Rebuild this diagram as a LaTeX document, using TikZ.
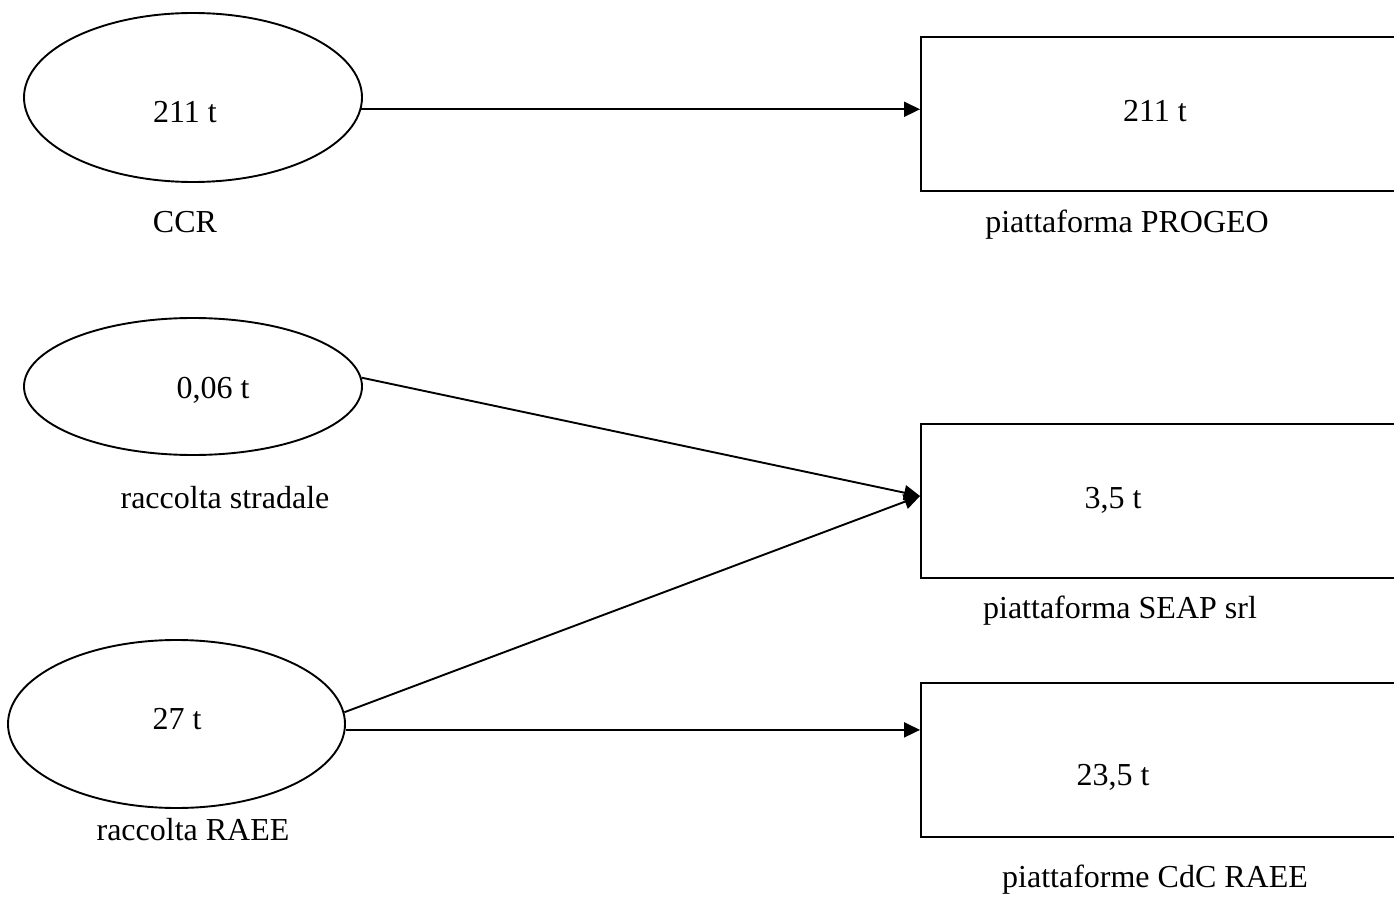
\documentclass[tikz,border=0pt]{standalone}
\usepackage{fontspec}
\setmainfont{Liberation Serif}
\usetikzlibrary{shapes.geometric,arrows.meta}
\begin{document}
\begin{tikzpicture}[x=0.5pt,y=-0.5pt,
  every node/.style={font=\fontsize{16pt}{20pt}\selectfont},
  source/.style={draw,ellipse,line width=0.95pt,inner sep=0pt},
  plant/.style={draw,rectangle,line width=0.95pt,inner sep=0pt,minimum width=239.5pt,minimum height=77pt},
  txt/.style={anchor=base,inner sep=0pt},
  flow/.style={line width=0.95pt,-{Triangle[length=8pt,width=7.5pt]}}]
\useasboundingbox (0,0) rectangle (1394,899);
\clip (0,0) rectangle (1394,899);

% sources
\node[source,minimum width=169pt,minimum height=84.5pt] (e1) at (193,97.5) {};
\node[source,minimum width=169pt,minimum height=68.5pt] (e2) at (193,386.5) {};
\node[source,minimum width=168.5pt,minimum height=84pt] (e3) at (176.5,724) {};

% destinations
\node[plant] (r1) at (1160.5,114) {};
\node[plant] (r2) at (1160.5,501) {};
\node[plant] (r3) at (1160.5,760) {};

% quantities and captions
\node[txt] (t1) at (185,123) {211 t};
\node[txt] (l1) at (185,233) {CCR};
\node[txt] (t2) at (213,398) {0,06 t};
\node[txt] (l2) at (225,508) {raccolta stradale};
\node[txt] (t3) at (177,729) {27 t};
\node[txt] (l3) at (193,840) {raccolta RAEE};

\node[txt] (u1) at (1155,122) {211 t};
\node[txt] (m1) at (1127,233) {piattaforma PROGEO};
\node[txt] (u2) at (1113,508) {3,5 t};
\node[txt] (m2) at (1120,618) {piattaforma SEAP srl};
\node[txt] (u3) at (1113,785) {23,5 t};
\node[txt] (m3) at (1155,887) {piattaforme CdC RAEE};

% flows
\coordinate (r2in) at ([yshift=2.5pt]r2.west);
\draw[flow] (e1.-4.3) -- (e1.-4.3 -| r1.west);
\draw[flow] (e2.3.3) -- (r2in);
\draw[flow] (e3.4) -- (r2in);
\draw[flow] (e3.-2) -- (e3.-2 -| r3.west);
\end{tikzpicture}
\end{document}
